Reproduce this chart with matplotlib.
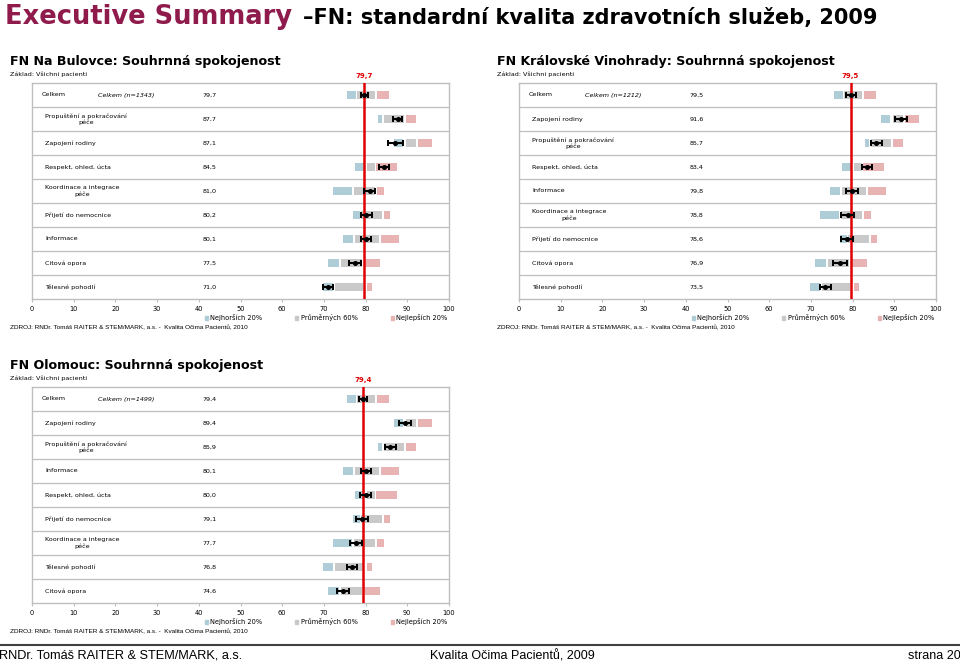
import matplotlib
matplotlib.use("Agg")
import matplotlib.pyplot as plt
from matplotlib.patches import Patch
from matplotlib.lines import Line2D

W, H = 960, 663

# national benchmark ranges per category: worst 20 %, middle 60 %, best 20 %
categories = ["Celkem", "Propuštění a pokračování\npéče", "Zapojení rodiny",
              "Respekt, ohled, úcta", "Koordinace a integrace\npéče",
              "Přijetí do nemocnice", "Informace", "Citová opora", "Tělesné pohodlí"]
worst_lo = [75.6, 82.9, 86.9, 77.5, 72.3, 76.9, 74.6, 71.1, 69.8]
worst_hi = [77.6, 83.9, 89.0, 79.6, 76.7, 78.6, 77.0, 73.7, 72.3]
mid_lo = [78.0, 84.3, 89.7, 80.4, 77.1, 79.0, 77.5, 74.2, 72.7]
mid_hi = [82.3, 89.1, 92.2, 82.2, 82.3, 83.9, 83.2, 79.2, 79.4]
best_lo = [82.7, 89.6, 92.6, 82.6, 82.7, 84.3, 83.6, 79.6, 80.4]
best_hi = [85.6, 92.1, 96.0, 87.5, 84.5, 85.9, 88.0, 83.5, 81.5]

# hospitals: row order (index into categories), score, error half-width
bulovce_order = [0, 1, 2, 3, 4, 5, 6, 7, 8]
bulovce_score = [79.7, 87.7, 87.1, 84.5, 81.0, 80.2, 80.1, 77.5, 71.0]
bulovce_err = [0.9, 1.1, 1.8, 1.2, 1.3, 1.4, 1.2, 1.5, 1.3]

vinohrady_order = [0, 2, 1, 3, 6, 4, 5, 7, 8]
vinohrady_score = [79.5, 91.6, 85.7, 83.4, 79.8, 78.8, 78.6, 76.9, 73.5]
vinohrady_err = [1.2, 1.5, 1.3, 1.2, 1.4, 1.5, 1.5, 1.7, 1.3]

olomouc_order = [0, 2, 1, 6, 3, 5, 4, 8, 7]
olomouc_score = [79.4, 89.4, 85.9, 80.1, 80.0, 79.1, 77.7, 76.8, 74.6]
olomouc_err = [1.0, 1.4, 1.3, 1.2, 1.3, 1.4, 1.5, 1.2, 1.5]

C_WORST, C_MID, C_BEST = "#AECDD6", "#C9C9C9", "#E7B3B3"
GRID = "#BFBFBF"
FONT = "DejaVu Sans"
SOURCE = "ZDROJ: RNDr. Tomáš RAITER & STEM/MARK, a.s. -  Kvalita Očima Pacientů, 2010"


def fx(x):
    return x / W


def fy(y):
    return 1 - y / H


def panel(fig, left, top, title, n, order, score, err):
    ax = fig.add_axes([fx(left), fy(top + 216), fx(417), 216 / H])
    rows = range(len(order))
    wl = [worst_lo[c] for c in order]
    ml = [mid_lo[c] for c in order]
    bl = [best_lo[c] for c in order]
    h = 0.32
    ax.barh(rows, [worst_hi[c] - worst_lo[c] for c in order], left=wl, height=h, color=C_WORST)
    ax.barh(rows, [mid_hi[c] - mid_lo[c] for c in order], left=ml, height=h, color=C_MID)
    ax.barh(rows, [best_hi[c] - best_lo[c] for c in order], left=bl, height=h, color=C_BEST)
    ax.axvline(score[0], color="#E00000", lw=1.8, zorder=4)
    ax.errorbar(score, list(rows), xerr=err, fmt="o", color="black", ms=2.6,
                elinewidth=1.5, capsize=2.2, capthick=1.4, zorder=5)
    for b in range(1, len(order)):
        ax.axhline(b - 0.5, color=GRID, lw=0.9, zorder=1)
    for i, c in enumerate(order):
        val = f"{score[i]:.1f}".replace(".", ",")
        if i == 0:
            ax.text(2.4, i, "Celkem", fontsize=4.6, va="center", family=FONT)
            ax.text(15.9, i, f"Celkem (n={n})", fontsize=4.6, va="center",
                    style="italic", family=FONT)
        else:
            ax.text(3.2, i, categories[c], fontsize=4.6, va="center", ha="left",
                    multialignment="center", family=FONT)
        ax.text(41.0, i, val, fontsize=4.6, va="center", family=FONT)
    ax.text(score[0], -0.78, f"{score[0]:.1f}".replace(".", ","), color="#E00000",
            fontsize=5, fontweight="bold", ha="center", va="center", family=FONT)
    ax.set_xlim(0, 100)
    ax.set_ylim(len(order) - 0.5, -0.5)
    ax.set_xticks(range(0, 101, 10))
    ax.set_yticks([])
    ax.tick_params(axis="x", labelsize=4.8, length=2, color=GRID, pad=3)
    for s in ax.spines.values():
        s.set_color(GRID)
        s.set_linewidth(1.0)
    handles = [Patch(color=C_WORST, label="Nejhorších 20%"),
               Patch(color=C_MID, label="Průměrných 60%"),
               Patch(color=C_BEST, label="Nejlepších 20%")]
    ax.legend(handles=handles, loc="center", bbox_to_anchor=(0.705, -0.087), ncol=3,
              frameon=False, fontsize=4.8, handlelength=0.45, handleheight=0.45,
              handletextpad=0.35, columnspacing=5.0, borderaxespad=0)
    fig.text(fx(left - 22), fy(top - 22), title, fontsize=9.1, fontweight="bold",
             va="center", family=FONT)
    fig.text(fx(left - 22), fy(top - 9), "Základ: Všichni pacienti", fontsize=4.6,
             va="center", family=FONT)
    fig.text(fx(left - 22), fy(top + 245), SOURCE, fontsize=4.55, va="center",
             family="Liberation Sans")
    return ax


fig = plt.figure(figsize=(W / 100, H / 100), dpi=100)

fig.text(fx(5), fy(17), "Executive Summary", fontsize=18.5, fontweight="bold",
         color="#8E1B4B", va="center", family=FONT)
fig.text(fx(303), fy(18), "–FN: standardní kvalita zdravotních služeb, 2009", fontsize=15,
         fontweight="bold", color="black", va="center", family=FONT)

panel(fig, 32, 83, "FN Na Bulovce: Souhrnná spokojenost", 1343,
      bulovce_order, bulovce_score, bulovce_err)
panel(fig, 519, 83, "FN Královské Vinohrady: Souhrnná spokojenost", 1212,
      vinohrady_order, vinohrady_score, vinohrady_err)
panel(fig, 32, 387, "FN Olomouc: Souhrnná spokojenost", 1499,
      olomouc_order, olomouc_score, olomouc_err)

fig.add_artist(Line2D([0, 1], [fy(645), fy(645)], color="#404040", lw=1.5))
fig.text(fx(-1), fy(656), "RNDr. Tomáš RAITER & STEM/MARK, a.s.", fontsize=9.2,
         va="center", family="Liberation Sans")
fig.text(fx(512), fy(656), "Kvalita Očima Pacientů, 2009", fontsize=9,
         va="center", ha="center", family="Liberation Sans")
fig.text(fx(961), fy(656), "strana 20", fontsize=9, va="center", ha="right",
         family="Liberation Sans")

fig.savefig("out.png", dpi=100)
